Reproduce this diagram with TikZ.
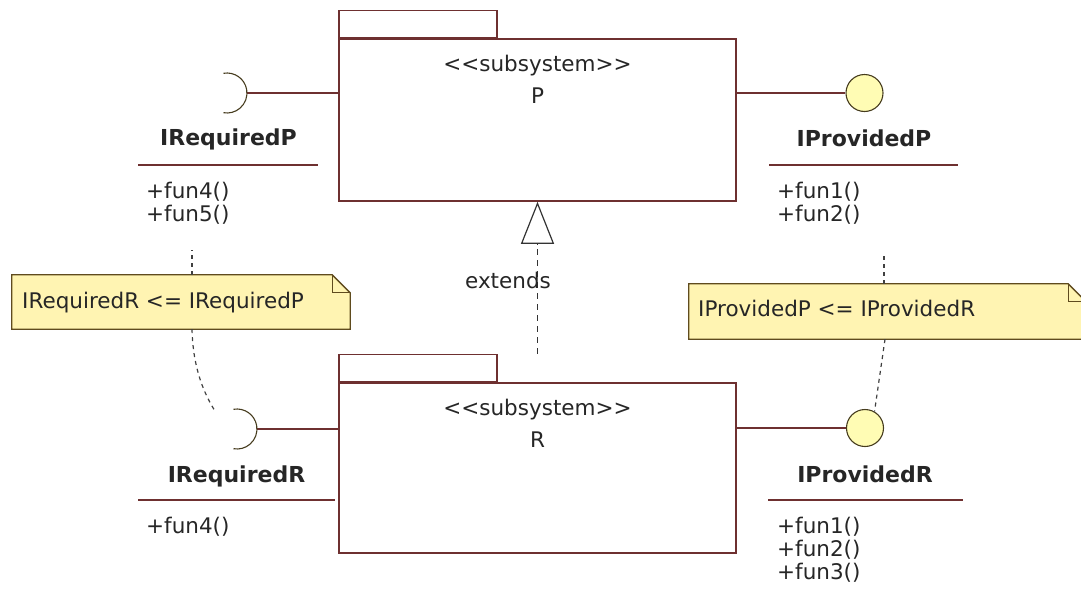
\documentclass[tikz,border=0pt]{standalone}
\usepackage{fontspec}
\newfontfamily\umlfont{DejaVu Sans}
\usetikzlibrary{arrows.meta}
\definecolor{umlline}{RGB}{110,48,48}
\definecolor{balldraw}{RGB}{70,60,30}
\definecolor{ballfill}{RGB}{255,252,180}
\definecolor{notedraw}{RGB}{95,75,30}
\definecolor{notefill}{RGB}{255,244,178}
\begin{document}
\begin{tikzpicture}[x=1pt,y=-1pt,
  every node/.style={font=\umlfont\fontsize{21.5}{23}\selectfont, inner sep=0pt, text=black!85},
  pkgbody/.style={draw=umlline, line width=1.6pt, fill=white, minimum width=397pt},
  pkgtab/.style={draw=umlline, line width=1.6pt, minimum width=158pt, minimum height=27pt, anchor=south west},
  wire/.style={draw=umlline, line width=1.6pt},
  ball/.style={circle, draw=balldraw, fill=ballfill, line width=1.1pt, minimum size=37pt},
  socket/.style={draw=balldraw, line width=1.1pt},
  iname/.style={font=\umlfont\bfseries\fontsize{22}{23}\selectfont, anchor=base},
  ops/.style={anchor=north west, align=left},
  notebox/.style={minimum height=55pt},
  notepaper/.style={draw=notedraw, fill=notefill, line width=1.3pt},
  anchorline/.style={draw=black!75, line width=1.2pt, dash pattern=on 4pt off 4pt},
  extends/.style={draw=black!80, line width=1.2pt, dash pattern=on 6pt off 5pt,
    -{Triangle[open, length=42pt, width=33pt, fill=white]}}
]
\useasboundingbox (0,0) rectangle (1081,603);

% subsystem P
\node[pkgbody, minimum height=162pt] (P) at (537.5,120) {};
\node[pkgtab] (Ptab) at (P.north west) {};
\node[anchor=base] (Pst) at (537.5,71) {<<subsystem>>};
\node[anchor=base] (Pname) at (537.5,103) {P};

% subsystem R
\node[pkgbody, minimum height=170pt] (R) at (537.5,468) {};
\node[pkgtab] (Rtab) at (R.north west) {};
\node[anchor=base] (Rst) at (537.5,415) {<<subsystem>>};
\node[anchor=base] (Rname) at (537.5,447) {R};

% extends
\draw[extends] (R.north |- Rtab.north) -- (P.south);
\node[anchor=base] (ext) at (508,288) {extends};

% required interfaces
\coordinate (IRPsock) at (247,93);
\draw[wire] (IRPsock) -- (P.west |- IRPsock);
\draw[socket] ([shift={(-23.5pt,19.7pt)}]IRPsock) arc[start angle=100, end angle=-100, radius=20pt];
\node[iname] (IRP) at (228.5,145) {IRequiredP};
\draw[wire] (138,165) -- (318,165);
\node[ops] (IRPops) at (146,182) {+fun4()\\+fun5()};

\coordinate (IRRsock) at (257,429);
\draw[wire] (IRRsock) -- (R.west |- IRRsock);
\draw[socket] ([shift={(-23.5pt,19.7pt)}]IRRsock) arc[start angle=100, end angle=-100, radius=20pt];
\node[iname] (IRR) at (236.5,482) {IRequiredR};
\draw[wire] (138,500) -- (335,500);
\node[ops] (IRRops) at (146,517) {+fun4()};

% provided interfaces
\node[ball] (IPPball) at (864.5,93) {};
\draw[wire] (P.east |- IPPball) -- (IPPball);
\node[iname] (IPP) at (864,146) {IProvidedP};
\draw[wire] (769,165) -- (958,165);
\node[ops] (IPPops) at (777,182) {+fun1()\\+fun2()};

\node[ball] (IPRball) at (865,428) {};
\draw[wire] (R.east |- IPRball) -- (IPRball);
\node[iname] (IPR) at (865,482) {IProvidedR};
\draw[wire] (768,500) -- (963,500);
\node[ops] (IPRops) at (777,517) {+fun1()\\+fun2()\\+fun3()};

% notes
\node[notebox, minimum width=338pt, minimum height=54pt] (noteL) at (181,302) {};
\draw[notepaper] (noteL.south west) |- ([xshift=-18pt]noteL.north east)
  -- ([yshift=-18pt]noteL.north east) -- (noteL.south east) -- cycle;
\draw[notepaper, fill=none] ([xshift=-18pt]noteL.north east) |- ([yshift=-18pt]noteL.north east);
\node[anchor=base west] (noteLtxt) at (22,308) {IRequiredR <= IRequiredP};

\node[notebox, minimum width=397pt] (noteR) at (887.5,311.5) {};
\draw[notepaper] (noteR.south west) |- ([xshift=-18pt]noteR.north east)
  -- ([yshift=-18pt]noteR.north east) -- (noteR.south east) -- cycle;
\draw[notepaper, fill=none] ([xshift=-18pt]noteR.north east) |- ([yshift=-18pt]noteR.north east);
\node[anchor=base west] (noteRtxt) at (698,316) {IProvidedP <= IProvidedR};

% note anchors
\coordinate (IRPend) at (192,250);
\coordinate (IRRend) at (215,411);
\draw[anchorline] ([xshift=11pt]noteL.north) -- (IRPend);
\draw[anchorline] ([xshift=11pt]noteL.south) .. controls (193,370) and (205,395) .. (IRRend);
\coordinate (IPPend) at (884,255);
\draw[anchorline] ([xshift=-3.5pt]noteR.north) -- (IPPend);
\draw[anchorline] ([xshift=-2.5pt]noteR.south) -- (IPRball.60);
\end{tikzpicture}
\end{document}
